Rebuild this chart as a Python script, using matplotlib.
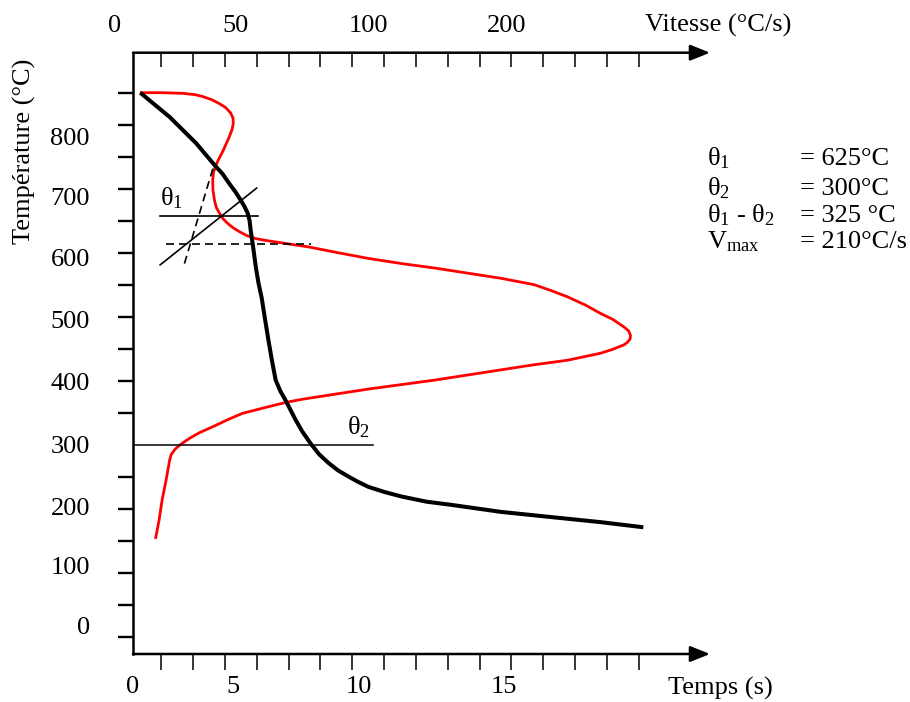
import matplotlib
matplotlib.use("Agg")
import matplotlib.pyplot as plt
import numpy as np

plt.rcParams['font.family'] = ['Liberation Serif', 'DejaVu Serif']
plt.rcParams['mathtext.fontset'] = 'custom'
plt.rcParams['mathtext.rm'] = 'Liberation Serif'
plt.rcParams['mathtext.default'] = 'regular'

FS = 19

# cooling curve (black): time (s) vs temperature (C)
cool_t = [0.19, 1.52, 2.72, 3.55, 3.92, 4.22, 4.50, 4.74, 4.91, 5.05, 5.14, 5.19,
          5.30, 5.42, 5.54, 5.69, 5.83, 5.99, 6.15, 6.32, 6.53, 6.76, 7.22, 7.52,
          7.90, 8.29, 8.73, 9.14, 9.63, 10.05, 10.53, 11.26, 12.03, 13.15, 14.28,
          16.53, 18.78, 21.04, 22.97]
cool_T = [850, 812, 771, 737, 723, 708, 695, 682, 672, 662, 650, 635,
          609, 578, 553, 529, 498, 464, 432, 401, 384, 370, 339, 321,
          302, 285, 271, 260, 250, 242, 234, 226, 219, 211, 206,
          195, 187, 179, 171]

# cooling rate curve (red), drawn in the same axis units
rate_x = [0.24, 1.22, 2.12, 2.66, 3.02, 3.43, 3.77, 4.05, 4.29, 4.39, 4.40, 4.35,
          4.22, 3.92, 3.74, 3.62, 3.51, 3.47, 3.48, 3.55, 3.63, 3.77, 3.94, 4.14,
          4.39, 4.67, 5.00, 5.42, 5.90, 6.47, 7.82, 9.14, 10.53, 12.03, 13.53,
          15.03, 16.53, 18.03, 18.78, 19.54, 20.36, 21.04, 21.58, 22.09, 22.30,
          22.39, 22.37, 22.25, 22.09, 21.58, 21.04, 20.36, 19.54, 18.03, 16.53,
          15.03, 13.53, 12.03, 10.53, 9.02, 7.52, 6.77, 5.72, 4.82, 4.14, 3.47,
          2.88, 2.42, 2.04, 1.76, 1.58, 1.52, 1.36, 1.18, 1.04, 0.89]
rate_T = [850, 850, 849, 847, 844, 839, 833, 827, 818, 810, 802, 793,
          781, 758, 746, 737, 726, 714, 698, 682, 671, 662, 653, 646,
          639, 633, 627, 622, 619, 616, 609, 600, 591, 583, 576,
          568, 560, 550, 541, 531, 518, 505, 496, 484, 478,
          471, 465, 460, 456, 449, 443, 438, 432, 425, 417,
          409, 401, 394, 387, 379, 371, 366, 357, 349, 339, 328,
          319, 310, 301, 293, 284, 276, 245, 214, 182, 155]

theta1 = 658
theta1_dash = 614
theta2 = 300

# tangent construction near theta1
tangent_x = [1.09, 5.46]
tangent_T = [581, 701]
steep_x = [2.19, 3.55]
steep_T = [583, 740]

# axis labels
y_labels = ['0', '100', '200', '300', '400', '500', '600', '700', '800']
y_label_pos = [17, 112, 204, 300, 399, 496, 592, 688, 781]
x_labels = ['0', '5', '10', '15']
x_label_pos = [-0.14, 4.37, 10.09, 16.64]
v_labels = ['0', '50', '100', '200']
v_label_pos = [-0.96, 4.49, 10.5, 16.8]
x_minor = np.arange(16) * 1.4414 + 1.14
y_minor = np.arange(0, 851, 50)

fig = plt.figure(figsize=(9.1, 7.02), dpi=100)
ax = fig.add_axes([133 / 910, 48 / 702, 577 / 910, 601.3 / 702])
ax.set_xlim(0, 25.99)
ax.set_ylim(-27.0, 912.5)

for s in ['top', 'right', 'bottom']:
    ax.spines[s].set_visible(False)
ax.spines['left'].set_linewidth(1.8)

arrow = dict(arrowstyle='-|>,head_length=1.0,head_width=0.4', lw=1.8, color='k',
             mutation_scale=12, shrinkA=0, shrinkB=0)
ax.annotate('', xy=(1, 0), xytext=(0, 0), xycoords='axes fraction', arrowprops=arrow)
ax.annotate('', xy=(1, 1), xytext=(0, 1), xycoords='axes fraction', arrowprops=arrow)

ax.set_yticks(y_label_pos, labels=y_labels)
ax.set_yticks(y_minor, minor=True)
ax.tick_params(axis='y', which='major', length=0, pad=31, labelsize=FS)
ax.tick_params(axis='y', which='minor', direction='out', length=11, width=1.7)

ax.set_xticks(x_label_pos, labels=x_labels)
ax.set_xticks(x_minor, minor=True)
ax.tick_params(axis='x', which='major', length=0, pad=16, labelsize=FS)
ax.tick_params(axis='x', which='minor', direction='out', length=11.5, width=1.1)

sec = ax.secondary_xaxis('top')
sec.spines['top'].set_visible(False)
sec.set_xticks([])
sec.set_xticks(x_minor, minor=True)
sec.tick_params(which='minor', direction='in', length=10, width=1.1)
for pos, lab in zip(v_label_pos, v_labels):
    ax.text(pos, 1.0436, lab, transform=ax.get_xaxis_transform(), ha='center',
            va='center', fontsize=FS, clip_on=False)

ax.plot(rate_x, rate_T, color='#ff0000', lw=2.0, solid_joinstyle='round')
ax.plot(cool_t, cool_T, color='black', lw=2.9, solid_joinstyle='round', solid_capstyle='butt')

ax.plot([1.09, 5.50], [theta1, theta1], color='black', lw=1.2)
ax.plot([1.34, 7.90], [theta1_dash, theta1_dash], color='black', lw=1.2, dashes=(4.8, 3))
ax.plot(tangent_x, tangent_T, color='black', lw=1.2)
ax.plot(steep_x, steep_T, color='black', lw=1.2, dashes=(4.8, 3))
ax.plot([-0.06, 10.75], [theta2, theta2], color='black', lw=1.1, clip_on=False)

ax.text(1.59, 685, 'θ$_1$', fontsize=FS, ha='center', va='center')
ax.text(10.05, 328, 'θ$_2$', fontsize=FS, ha='center', va='center')

fig.text(24 / 910, 1 - 151.7 / 702, 'Température (°C)', rotation=90,
         ha='center', va='center', fontsize=FS)
fig.text(645 / 910, 1 - 25 / 702, 'Vitesse (°C/s)', ha='left', va='center', fontsize=FS)
fig.text(668 / 910, 1 - 688 / 702, 'Temps (s)', ha='left', va='center', fontsize=FS)

rows = [('θ$_1$', '= 625°C'), ('θ$_2$', '= 300°C'),
        ('θ$_1$ - θ$_2$', '= 325 °C'), ('V$_{max}$', '= 210°C/s')]
baselines = [165, 195, 222, 248.5]
for (name, val), yb in zip(rows, baselines):
    fig.text(706.7 / 910, 1 - yb / 702, name, ha='left', va='baseline', fontsize=FS)
    fig.text(800 / 910, 1 - yb / 702, val, ha='left', va='baseline', fontsize=FS)

fig.savefig('out.png', dpi=100)
